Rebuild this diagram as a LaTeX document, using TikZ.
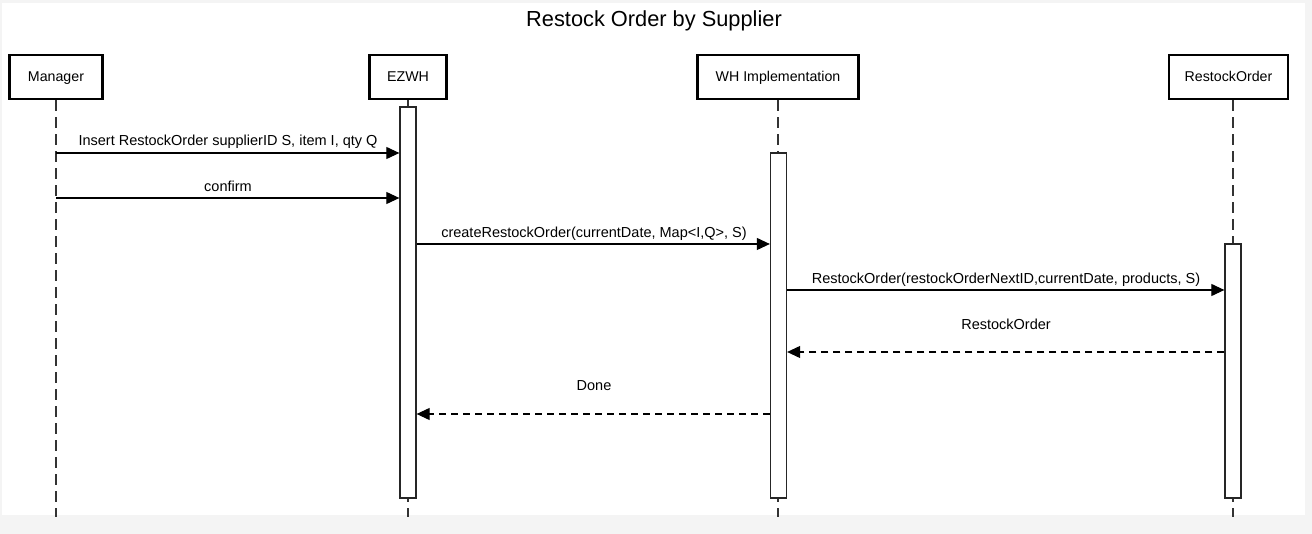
\documentclass[tikz,border=0pt]{standalone}
\usepackage{fontspec}
\setmainfont{Liberation Sans}
\usetikzlibrary{arrows.meta}
\definecolor{bggray}{HTML}{F4F4F4}
\begin{document}
\begin{tikzpicture}[x=1pt,y=-1pt,
  actor/.style={draw=black,line width=2.6pt,fill=white,minimum height=44pt,inner sep=0pt,text height=10.5pt,text depth=1pt,font=\fontsize{14.2}{16}\selectfont},
  life/.style={draw=black!80,line width=1.3pt,dash pattern=on 11pt off 6pt},
  actbar/.style={draw=black!85,line width=1.3pt,fill=white},
  msg/.style={draw=black,line width=1.1pt,-{Triangle[length=13pt,width=12pt]}},
  ret/.style={msg,dash pattern=on 7pt off 5pt},
  lbl/.style={font=\fontsize{14.5}{16}\selectfont,inner sep=0pt,anchor=base}]
\fill[bggray] (0,0) rectangle (1312,534);
\fill[white] (2,3) rectangle (1305,515);
\useasboundingbox (0,0) rectangle (1312,534);
\node[font=\fontsize{21.8}{26}\selectfont] (title) at (654,21) {Restock Order by Supplier};
% actors
\node[actor,minimum width=93pt] (man) at (56,77) {Manager};
\node[actor,minimum width=77pt] (ez) at (408,77) {EZWH};
\node[actor,minimum width=161pt] (wh) at (778,77) {WH Implementation};
\node[actor,minimum width=119pt] (ro) at (1228.5,77) {RestockOrder};
% lifeline ends
\coordinate (manE) at (56,517);
\coordinate (ezE) at (408,517);
\coordinate (whE) at (778,517);
\coordinate (roE) at (1233,517);
\draw[life] (man.south) -- (manE);
\draw[life] (ez.south) -- (ezE);
\draw[life] (wh.south) -- (whE);
\draw[life] (ro.south -| roE) -- (roE);
% activation bars
\node[actbar,minimum width=16pt,minimum height=391pt,inner sep=0pt] (ezA) at (408,302.5) {};
\node[actbar,minimum width=16pt,minimum height=345pt,inner sep=0pt] (whA) at (778.5,325.5) {};
\node[actbar,minimum width=16pt,minimum height=254pt,inner sep=0pt] (roA) at (1233,371) {};
% messages
\draw[msg] (man.south |- 0,153) -- (ezA.west |- 0,153);
\node[lbl] (m1) at (228,146) {Insert RestockOrder supplierID S, item I, qty Q};
\draw[msg] (man.south |- 0,198) -- (ezA.west |- 0,198);
\node[lbl] (m2) at (228,192) {confirm};
\draw[msg] (ezA.east |- 0,244) -- (whA.west |- 0,244);
\node[lbl] (m3) at (594,238) {createRestockOrder(currentDate, Map<I,Q>, S)};
\draw[msg] (whA.east |- 0,290) -- (roA.west |- 0,290);
\node[lbl] (m4) at (1006,284) {RestockOrder(restockOrderNextID,currentDate, products, S)};
\draw[ret] (roA.west |- 0,352) -- (whA.east |- 0,352);
\node[lbl] (m5) at (1006,330) {RestockOrder};
\draw[ret] (whA.west |- 0,414) -- (ezA.east |- 0,414);
\node[lbl] (m6) at (594,391) {Done};
\end{tikzpicture}
\end{document}
